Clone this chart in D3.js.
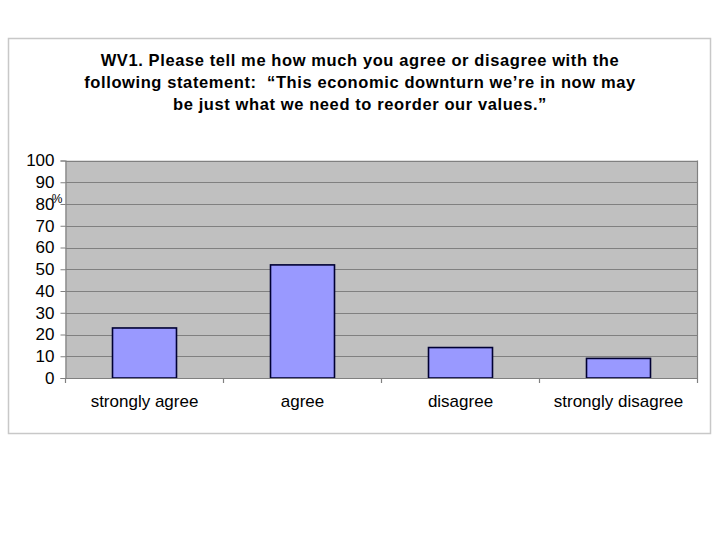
<!DOCTYPE html>
<html><head><meta charset="utf-8">
<script src="https://cdn.jsdelivr.net/npm/d3@7"></script>
<style>body{margin:0;background:#fff;} svg{display:block;}</style>
</head><body>
<script>
const categories = ["strongly agree", "agree", "disagree", "strongly disagree"];
const values = [23, 52, 14, 9];
const yTicks = [0, 10, 20, 30, 40, 50, 60, 70, 80, 90, 100];
const titleLines = [
  "WV1. Please tell me how much you agree or disagree with the",
  "following statement:  \u201cThis economic downturn we\u2019re in now may",
  "be just what we need to reorder our values.\u201d"
];

const W = 720, H = 540;
const FONT = "Liberation Sans, Arial, sans-serif";
const svg = d3.select("body").append("svg").attr("width", W).attr("height", H);
svg.append("rect").attr("width", W).attr("height", H).attr("fill", "#fff");

// outer frame
svg.append("rect").attr("x", 8.5).attr("y", 38.5).attr("width", 702).attr("height", 395)
  .attr("fill", "#fff").attr("stroke", "#c8c8c8").attr("stroke-width", 1.5);

const L = 65.5, R = 697.5, T = 160.5, B = 378;
const x = d3.scaleBand().domain(categories).range([L, R]).paddingInner(0.595).paddingOuter(0.2975);
const y = d3.scaleLinear().domain([0, 100]).range([B, T]);

// plot area
svg.append("rect").attr("x", L).attr("y", T).attr("width", R - L).attr("height", B - T)
  .attr("fill", "#c0c0c0");

// gridlines
svg.append("g").selectAll("line").data(yTicks.filter(d => d > 0)).join("line")
  .attr("x1", L).attr("x2", R).attr("y1", d => Math.round(y(d)) + 0.5).attr("y2", d => Math.round(y(d)) + 0.5)
  .attr("stroke", "#808080").attr("stroke-width", 1.2);

// right border
svg.append("line").attr("x1", R).attr("x2", R).attr("y1", T).attr("y2", B)
  .attr("stroke", "#808080").attr("stroke-width", 1.2);

// bars
svg.append("g").selectAll("rect").data(values).join("rect")
  .attr("x", (d, i) => x(categories[i]))
  .attr("y", d => y(d))
  .attr("width", x.bandwidth())
  .attr("height", d => B - y(d))
  .attr("fill", "#9999ff").attr("stroke", "#000033").attr("stroke-width", 1.6);

// y axis
const yAxis = d3.axisLeft(y).tickValues(yTicks).tickSize(5).tickPadding(6).tickFormat(d3.format("d"));
const gy = svg.append("g").attr("transform", `translate(${L},0)`).call(yAxis);
gy.select(".domain").attr("stroke", "#808080").attr("stroke-width", 1.2);
gy.selectAll(".tick line").attr("stroke", "#808080");
gy.selectAll("text").attr("font-family", FONT).attr("font-size", 17).attr("fill", "#000");

// x axis
const xAxis = d3.axisBottom(x).tickSize(0).tickPadding(17);
const gx = svg.append("g").attr("transform", `translate(0,${B})`).call(xAxis);
gx.select(".domain").attr("stroke", "#808080").attr("stroke-width", 1.2);
gx.selectAll("text").attr("font-family", FONT).attr("font-size", 17).attr("fill", "#000");
// category boundary ticks
const bounds = categories.map(c => x(c) - x.step() * x.paddingOuter()).concat([R]);
svg.append("g").selectAll("line").data(bounds).join("line")
  .attr("x1", d => d).attr("x2", d => d).attr("y1", B).attr("y2", B + 5)
  .attr("stroke", "#808080").attr("stroke-width", 1.2);

// % label
svg.append("text").attr("x", 57).attr("y", 203).attr("text-anchor", "middle")
  .attr("font-family", FONT).attr("font-size", 12).text("%");

// title
svg.append("g").selectAll("text").data(titleLines).join("text")
  .attr("x", 360).attr("y", (d, i) => 66 + i * 22).attr("text-anchor", "middle")
  .attr("font-family", FONT).attr("font-weight", "bold")
  .attr("font-size", 16.5).attr("letter-spacing", 0.6)
  .style("white-space", "pre")
  .attr("fill", "#000").text(d => d);
</script>
</body></html>
